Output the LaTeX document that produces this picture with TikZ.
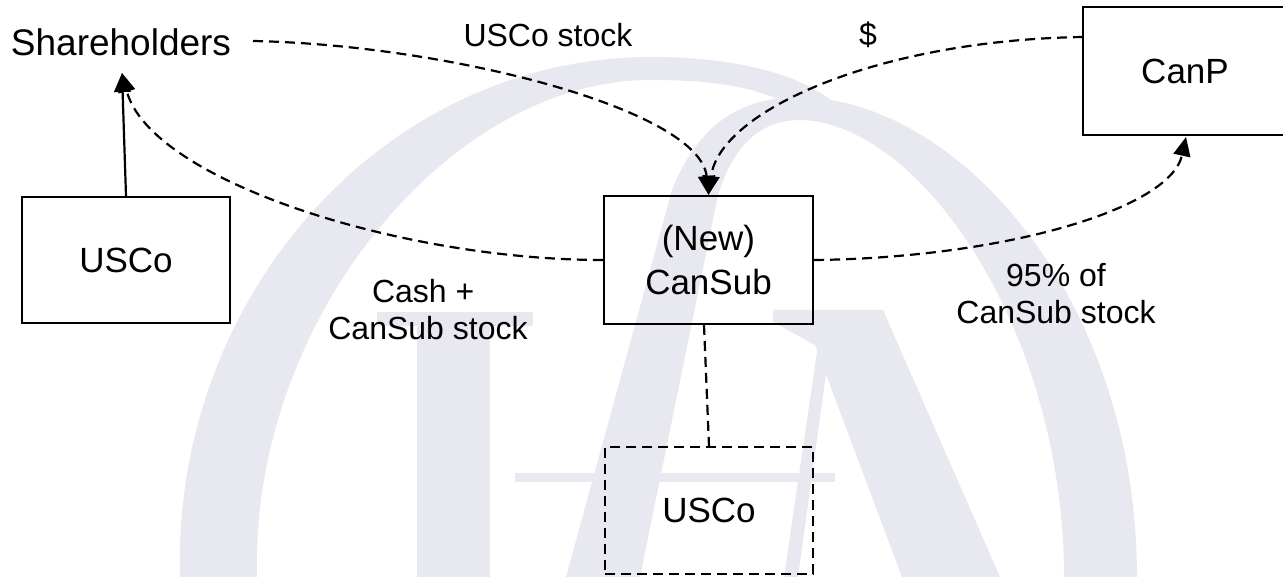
\documentclass[tikz,border=0pt]{standalone}
\usepackage{fontspec}
\setmainfont{Liberation Sans}
\usetikzlibrary{arrows.meta}
\definecolor{wmcol}{RGB}{232,232,241}
\tikzset{
  wm/.style={fill=wmcol, draw=none},
  boxnode/.style={draw=black, line width=2.2bp, inner sep=0pt, align=center,
    font=\fontsize{35bp}{44bp}\selectfont},
  dboxnode/.style={boxnode, dash pattern=on 10bp off 6bp},
  lbl/.style={inner sep=0pt, align=center, font=\fontsize{32bp}{37bp}\selectfont},
  biglbl/.style={inner sep=0pt, font=\fontsize{37bp}{42bp}\selectfont},
  dline/.style={line width=2.2bp, dash pattern=on 10bp off 6bp},
  sline/.style={line width=2.2bp},
  arr/.style={-{Triangle[length=19bp,width=17bp]}},
}
\begin{document}
\begin{tikzpicture}[x=1bp,y=-1bp]
\useasboundingbox (0,0) rectangle (1283,577);
\clip (0,0) rectangle (1283,577);
% watermark
\fill[wm] (180,577) .. controls (172,300) and (380,58) .. (650,57) .. controls (740,57) and (800,75) .. (835,103) -- (795,108) .. controls (760,88) and (720,80) .. (650,80) .. controls (450,80) and (250,320) .. (257,577) -- cycle;
\fill[wm] (566,577) -- (672,190) .. controls (700,120) and (745,97) .. (800,97) .. controls (960,100) and (1137,300) .. (1137,577) -- (1064,577) .. controls (1064,330) and (920,122) .. (800,120) .. controls (765,120) and (735,140) .. (718,195) -- (640,577) -- cycle;
\fill[wm] (417,312) rectangle (490,577);
\fill[wm] (377,312) rectangle (533,326);
\fill[wm] (773,310) -- (883,310) -- (1000,577) -- (902,577) -- (815,345) -- (773,322) -- cycle;
\fill[wm] (818,345) -- (830,345) -- (798,577) -- (784,577) -- cycle;
\fill[wm] (515,473) rectangle (835,482);
% nodes
\node[biglbl] (sh) at (121,42) {Shareholders};
\node[boxnode, minimum width=208bp, minimum height=126bp] (usco) at (126,260) {USCo};
\node[boxnode, minimum width=209bp, minimum height=128bp] (cansub) at (708.5,260) {(New)\\CanSub};
\node[dboxnode, minimum width=208bp, minimum height=127bp] (usco2) at (709,510.5) {USCo};
\node[boxnode, minimum width=204bp, minimum height=128bp] (canp) at (1185,71) {CanP};
\coordinate (shin) at (122,73);
\coordinate (shout) at (253,41);
\coordinate (canpout) at (1083,37);
\coordinate (canpin) at (1186,137);
\coordinate (subbot) at (704,325);
% connectors
\draw[sline,arr] (usco.north) -- (shin);
\draw[dline,arr] (shout) .. controls (450,45) and (700,110) .. (cansub.north);
\draw[dline,arr] (canpout) .. controls (880,40) and (720,110) .. (cansub.north);
\draw[dline,arr] (cansub.west) .. controls (400,260) and (150,180) .. (shin);
\draw[dline,arr] (cansub.east) .. controls (1000,258) and (1170,210) .. (canpin);
\draw[dline] (subbot) -- (usco2.north);
% labels
\node[lbl] (l1) at (548,35) {USCo stock};
\node[lbl] (l2) at (868,35) {\$};
\node[lbl] (l3) at (428,310) {Cash +\hspace*{0.3em}\\CanSub stock};
\node[lbl] (l4) at (1056,294) {95\% of\\CanSub stock};
\end{tikzpicture}
\end{document}
